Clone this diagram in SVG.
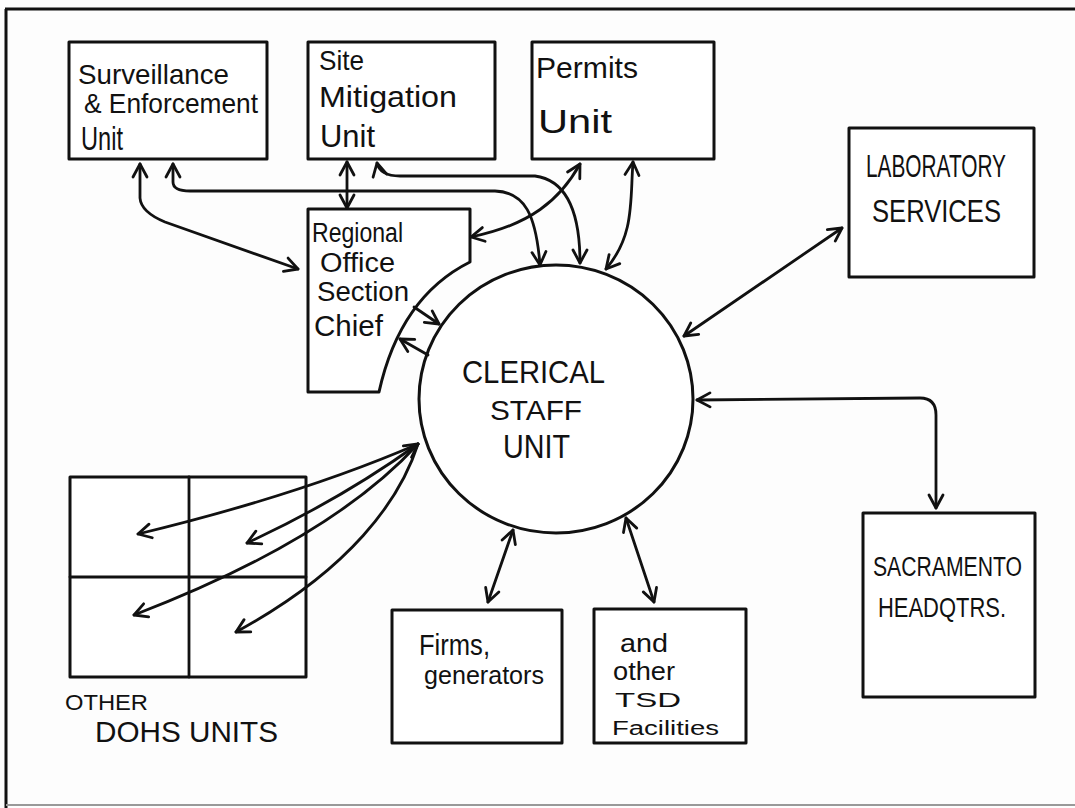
<svg xmlns="http://www.w3.org/2000/svg" width="1075" height="808" viewBox="0 0 1075 808">
<style>
.box{fill:#fff;stroke:#111;stroke-width:3;stroke-linejoin:round}
.ln{fill:none;stroke:#111;stroke-width:2.8;stroke-linecap:round;stroke-linejoin:round}
.t{font-family:"Liberation Sans","DejaVu Sans",sans-serif;fill:#111}
</style>
<defs>
<marker id="ah" viewBox="0 0 18 18" refX="16" refY="9" markerWidth="18" markerHeight="18" markerUnits="userSpaceOnUse" orient="auto-start-reverse">
<path d="M3,2 L16,9 L3,16" fill="none" stroke="#111" stroke-width="2.8" stroke-linecap="round" stroke-linejoin="round"/>
</marker>
</defs>
<rect x="0" y="0" width="1075" height="808" fill="#fdfdfd"/>
<g id="frame">
<line x1="5" y1="9" x2="1075" y2="9" stroke="#111" stroke-width="3"/>
<line x1="6" y1="9" x2="6" y2="808" stroke="#111" stroke-width="3"/>
<line x1="6" y1="805" x2="1075" y2="805" stroke="#999" stroke-width="2"/>
</g>

<g id="surveillance">
<rect class="box" x="69" y="42" width="198" height="117"/>
<text class="t" x="78" y="84" font-size="28" textLength="151" lengthAdjust="spacingAndGlyphs">Surveillance</text>
<text class="t" x="84" y="113" font-size="28" textLength="174" lengthAdjust="spacingAndGlyphs">&amp; Enforcement</text>
<text class="t" x="81" y="150" font-size="33" textLength="42" lengthAdjust="spacingAndGlyphs">Unit</text>
</g>
<g id="site-mitigation">
<rect class="box" x="308" y="42" width="187" height="117"/>
<text class="t" x="319" y="70" font-size="28" textLength="45" lengthAdjust="spacingAndGlyphs">Site</text>
<text class="t" x="319" y="107" font-size="30" textLength="138" lengthAdjust="spacingAndGlyphs">Mitigation</text>
<text class="t" x="320" y="147" font-size="32" textLength="55" lengthAdjust="spacingAndGlyphs">Unit</text>
</g>
<g id="permits">
<rect class="box" x="532" y="42" width="182" height="117"/>
<text class="t" x="536" y="78" font-size="30" textLength="102" lengthAdjust="spacingAndGlyphs">Permits</text>
<text class="t" x="538" y="133" font-size="34" textLength="74" lengthAdjust="spacingAndGlyphs">Unit</text>
</g>
<g id="laboratory">
<rect class="box" x="849" y="128" width="185" height="149"/>
<text class="t" x="866" y="177" font-size="31" textLength="140" lengthAdjust="spacingAndGlyphs">LABORATORY</text>
<text class="t" x="872" y="222" font-size="31" textLength="129" lengthAdjust="spacingAndGlyphs">SERVICES</text>
</g>
<g id="regional-office">
<path class="box" d="M308,209 L470,209 L470,262 C430,282 395,320 379,392 L308,392 Z"/>
<text class="t" x="312" y="242" font-size="27" textLength="91" lengthAdjust="spacingAndGlyphs">Regional</text>
<text class="t" x="320" y="272" font-size="27" textLength="75" lengthAdjust="spacingAndGlyphs">Office</text>
<text class="t" x="317" y="301" font-size="27" textLength="92" lengthAdjust="spacingAndGlyphs">Section</text>
<text class="t" x="314" y="336" font-size="30" textLength="69" lengthAdjust="spacingAndGlyphs">Chief</text>
</g>
<g id="clerical-staff">
<ellipse class="box" cx="556" cy="399" rx="137" ry="134"/>
<text class="t" x="462" y="383" font-size="32" textLength="143" lengthAdjust="spacingAndGlyphs">CLERICAL</text>
<text class="t" x="490" y="420" font-size="28" textLength="92" lengthAdjust="spacingAndGlyphs">STAFF</text>
<text class="t" x="503" y="458" font-size="34" textLength="67" lengthAdjust="spacingAndGlyphs">UNIT</text>
</g>
<g id="other-dohs">
<rect class="box" x="70" y="477" width="236" height="200"/>
<line class="ln" x1="189" y1="477" x2="189" y2="677"/>
<line class="ln" x1="70" y1="577" x2="306" y2="577"/>
<text class="t" x="65" y="710" font-size="22" textLength="83" lengthAdjust="spacingAndGlyphs">OTHER</text>
<text class="t" x="95" y="742" font-size="29" textLength="183" lengthAdjust="spacingAndGlyphs">DOHS UNITS</text>
</g>
<g id="firms">
<rect class="box" x="392" y="610" width="170" height="133"/>
<text class="t" x="419" y="655" font-size="29" textLength="71" lengthAdjust="spacingAndGlyphs">Firms,</text>
<text class="t" x="424" y="684" font-size="26" textLength="120" lengthAdjust="spacingAndGlyphs">generators</text>
</g>
<g id="tsd">
<rect class="box" x="594" y="609" width="152" height="134"/>
<text class="t" x="620" y="652" font-size="25" textLength="48" lengthAdjust="spacingAndGlyphs">and</text>
<text class="t" x="613" y="680" font-size="25" textLength="62" lengthAdjust="spacingAndGlyphs">other</text>
<text class="t" x="615" y="707" font-size="21" textLength="66" lengthAdjust="spacingAndGlyphs">TSD</text>
<text class="t" x="612" y="735" font-size="20" textLength="107" lengthAdjust="spacingAndGlyphs">Facilities</text>
</g>
<g id="sacramento">
<rect class="box" x="863" y="513" width="172" height="184"/>
<text class="t" x="873" y="576" font-size="27" textLength="149" lengthAdjust="spacingAndGlyphs">SACRAMENTO</text>
<text class="t" x="878" y="617" font-size="28" textLength="128" lengthAdjust="spacingAndGlyphs">HEADQTRS.</text>
</g>

<g id="connectors">
<path class="ln" d="M140,164 L140,198 Q141,212 165,222 L298,269" marker-start="url(#ah)" marker-end="url(#ah)"/>
<path class="ln" d="M173,164 L173,182 Q173,191 190,191 L495,191 C525,192 536,215 540,265" marker-start="url(#ah)" marker-end="url(#ah)"/>
<path class="ln" d="M347,162 L347,208" marker-start="url(#ah)" marker-end="url(#ah)"/>
<path class="ln" d="M377,163 Q380,176 400,176 L535,176 C565,180 580,210 580,263" marker-start="url(#ah)" marker-end="url(#ah)"/>
<path class="ln" d="M580,164 C560,200 530,225 471,237" marker-start="url(#ah)" marker-end="url(#ah)"/>
<path class="ln" d="M633,162 C630,200 635,235 606,269" marker-start="url(#ah)" marker-end="url(#ah)"/>
<path class="ln" d="M414,307 L439,324" marker-end="url(#ah)"/>
<path class="ln" d="M428,355 L400,339" marker-end="url(#ah)"/>
<path class="ln" d="M684,336 L842,228" marker-start="url(#ah)" marker-end="url(#ah)"/>
<path class="ln" d="M697,400 L920,398 Q936,398 936,415 L936,508" marker-start="url(#ah)" marker-end="url(#ah)"/>
<path class="ln" d="M418,444 Q300,495 138,534" marker-end="url(#ah)"/>
<path class="ln" d="M418,444 Q340,500 247,543" marker-start="url(#ah)" marker-end="url(#ah)"/>
<path class="ln" d="M418,444 Q330,540 134,615" marker-end="url(#ah)"/>
<path class="ln" d="M418,444 C400,500 350,570 236,632" marker-end="url(#ah)"/>
<path class="ln" d="M513,530 L488,602" marker-start="url(#ah)" marker-end="url(#ah)"/>
<path class="ln" d="M626,518 L654,602" marker-start="url(#ah)" marker-end="url(#ah)"/>
</g>
</svg>
